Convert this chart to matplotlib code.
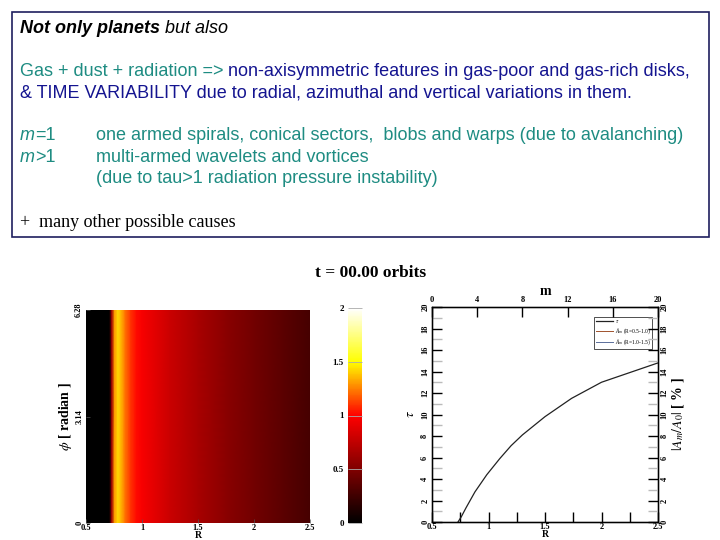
import numpy as np
import matplotlib
matplotlib.use('Agg')
import matplotlib.pyplot as plt
from matplotlib.colors import LinearSegmentedColormap
from matplotlib.patches import Rectangle
from matplotlib.ticker import MultipleLocator

# --- data ---
# surface density along R at t = 0 (axisymmetric, same for every phi)
r_profile = [0.5, 0.71, 0.73, 0.755, 0.785, 0.81, 0.85, 0.90, 0.95, 1.0,
             1.25, 1.5, 1.75, 2.0, 2.25, 2.5]
sigma_profile = [0.0, 0.0, 0.6, 1.3, 1.42, 1.36, 1.22, 1.1, 1.02, 0.97,
                 0.79, 0.66, 0.54, 0.45, 0.36, 0.28]
phi_edges = [0.0, 6.28]

# optical depth tau(R)
r_tau = [0.73, 0.76, 0.80, 0.88, 0.985, 1.1, 1.2, 1.3, 1.5, 1.735, 2.0, 2.25, 2.5]
tau = [0.0, 0.5, 1.3, 2.8, 4.4, 5.9, 7.1, 8.1, 9.8, 11.5, 13.0, 13.9, 14.8]

legend_labels = [r'$\tau$', r'$A_m$ (R=0.5-1.0)', r'$A_m$ (R=1.0-1.5)']
legend_colors = ['#222222', '#a0522d', '#5a6e9a']

cbar_ticks = [0, 0.5, 1, 1.5, 2]
phi_ticks = [0, 3.14, 6.28]
r_ticks = [0.5, 1, 1.5, 2, 2.5]
m_ticks = [0, 4, 8, 12, 16, 20]

TEAL = '#1e8c82'
NAVY = '#141490'

W, H = 720, 540
plt.rcParams['font.family'] = ['Liberation Serif', 'DejaVu Serif']
plt.rcParams['mathtext.fontset'] = 'stix'

fig = plt.figure(figsize=(7.2, 5.4), dpi=100)
renderer = fig.canvas.get_renderer()


def write_runs(x_px, base_px, runs):
    """Writes pieces of text one after another on the same baseline."""
    x = x_px
    for s, props in runs:
        t = fig.text(x / W, 1 - base_px / H, s, va='baseline', ha='left', **props)
        x += t.get_window_extent(renderer).width


# --- text box on top ---
fig.patches.append(Rectangle((12 / W, 1 - 237 / H), 697 / W, 225 / H,
                             transform=fig.transFigure, fill=False,
                             ec='#1f1f5f', lw=1.2))
sans = dict(family=['Liberation Sans', 'DejaVu Sans'], fontsize=13)
write_runs(20, 33, [("Not only planets", dict(sans, weight='bold', style='italic', color='black')),
                    (" but also", dict(sans, style='italic', color='black'))])
write_runs(20, 76, [("Gas + dust + radiation => ", dict(sans, color=TEAL)),
                    ("non-axisymmetric features in gas-poor and gas-rich disks,", dict(sans, color=NAVY))])
write_runs(20, 97.5, [("& TIME VARIABILITY due to radial, azimuthal and vertical variations in them.",
                       dict(sans, color=NAVY))])
write_runs(20, 140.5, [("m", dict(sans, style='italic', color=TEAL)), ("=1", dict(sans, color=TEAL))])
write_runs(96, 140.5, [("one armed spirals, conical sectors,  blobs and warps (due to avalanching)",
                        dict(sans, color=TEAL))])
write_runs(20, 162.5, [("m", dict(sans, style='italic', color=TEAL)), (">1", dict(sans, color=TEAL))])
write_runs(96, 162.5, [("multi-armed wavelets and vortices", dict(sans, color=TEAL))])
write_runs(96, 183, [("(due to tau>1 radiation pressure instability)", dict(sans, color=TEAL))])
write_runs(20, 227, [("+  many other possible causes",
                      dict(family=['Liberation Serif'], fontsize=13, color='black'))])

fig.text(371 / W, 1 - 273 / H, 't = 00.00 orbits', ha='center', va='center',
         fontsize=12.5, weight='bold')

# --- left panel: density map ---
cmap = LinearSegmentedColormap.from_list(
    'bhot', [(0, 'black'), (0.5, '#ff0000'), (0.75, '#ffff00'), (1, 'white')])

ax1 = fig.add_axes([86 / W, 1 - 523 / H, 224 / W, 213 / H])
R2, P2 = np.meshgrid(r_profile, phi_edges)
Z = np.vstack([sigma_profile, sigma_profile])
mesh = ax1.pcolormesh(R2, P2, Z, cmap=cmap, vmin=0, vmax=2, shading='gouraud')
ax1.set_xlim(0.5, 2.5)
ax1.set_ylim(0, 6.28)
ax1.set_xticks(r_ticks)
ax1.set_xticklabels(['0.5', '1', '1.5', '2', '2.5'])
ax1.set_yticks(phi_ticks)
ax1.set_yticklabels(['0', '3.14', '6.28'], rotation=90, va='center')
ax1.tick_params(direction='in', length=3, width=0.5, color='#555555',
                labelsize=6, pad=2)
ax1.tick_params(axis='x', pad=1)
for lab in ax1.get_xticklabels() + ax1.get_yticklabels():
    lab.set_fontweight('bold')
for sp in ax1.spines.values():
    sp.set_visible(False)
ax1.set_ylabel(r'$\phi$ [ radian ]', fontsize=10, weight='bold', labelpad=1)
ax1.set_xlabel('R', fontsize=7, weight='bold', labelpad=-1)

cax = fig.add_axes([348 / W, 1 - 523 / H, 14 / W, 215 / H])
cb = fig.colorbar(mesh, cax=cax, ticks=cbar_ticks)
cb.outline.set_visible(False)
cax.yaxis.set_ticks_position('left')
cax.set_yticklabels(['0', '0.5', '1', '1.5', '2'])
cax.tick_params(direction='in', length=10, width=0.6, color='#aaaaaa',
                labelsize=6.5, pad=3)
for lab in cax.get_yticklabels():
    lab.set_fontweight('bold')

# --- right panel: tau and mode amplitudes ---
ax2 = fig.add_axes([432 / W, 1 - 522 / H, 226 / W, 215 / H])
ax2.plot(r_tau, tau, color=legend_colors[0], lw=0.9, label=legend_labels[0])
ax2.plot([], [], color=legend_colors[1], lw=0.7, label=legend_labels[1])
ax2.plot([], [], color=legend_colors[2], lw=0.7, label=legend_labels[2])
ax2.set_xlim(0.5, 2.5)
ax2.set_ylim(0, 20)
ax2.set_xticks(r_ticks)
ax2.set_xticklabels(['0.5', '1', '1.5', '2', '2.5'])
ax2.xaxis.set_minor_locator(MultipleLocator(0.25))
ax2.yaxis.set_major_locator(MultipleLocator(2))
ax2.yaxis.set_minor_locator(MultipleLocator(1))
ax2.tick_params(which='major', direction='in', length=7, width=1.0,
                labelsize=6, pad=2, right=False, top=False)
ax2.tick_params(which='minor', direction='in', length=7, width=1.0,
                color='#bbbbbb', right=False, top=False)
ax2.tick_params(axis='x', which='minor', color='black')
ax2.tick_params(axis='x', which='major', pad=1)
for lab in ax2.get_yticklabels():
    lab.set_rotation(90)
    lab.set_va('center')
for lab in ax2.get_xticklabels() + ax2.get_yticklabels():
    lab.set_fontweight('bold')
ax2.set_xlabel('R', fontsize=7, weight='bold', labelpad=-1)
ax2.set_ylabel(r'$\tau$', fontsize=10, weight='bold', labelpad=3)
for sp in ax2.spines.values():
    sp.set_linewidth(1.0)

leg = ax2.legend(loc='upper right', bbox_to_anchor=(0.975, 0.955), fontsize=4,
                 frameon=True, fancybox=False, borderpad=0.3, handlelength=3,
                 labelspacing=0.2, borderaxespad=0, handletextpad=0.4)
leg.get_frame().set_edgecolor('black')
leg.get_frame().set_linewidth(0.6)

ax_top = ax2.twiny()
ax_top.set_xlim(0, 20)
ax_top.set_xticks(m_ticks)
ax_top.tick_params(direction='in', length=7, width=1.0, labelsize=6, pad=2)
for lab in ax_top.get_xticklabels():
    lab.set_fontweight('bold')
ax_top.set_xlabel('m', fontsize=10, weight='bold', labelpad=1)

ax_right = ax2.twinx()
ax_right.set_ylim(0, 20)
ax_right.yaxis.set_major_locator(MultipleLocator(2))
ax_right.yaxis.set_minor_locator(MultipleLocator(1))
ax_right.tick_params(which='major', direction='in', length=7, width=1.0,
                     labelsize=6, pad=2)
ax_right.tick_params(which='minor', direction='in', length=7, width=1.0,
                     color='#bbbbbb')
for lab in ax_right.get_yticklabels():
    lab.set_rotation(90)
    lab.set_va('center')
    lab.set_fontweight('bold')
ax_right.set_ylabel(r'$|A_m/A_0|$ [ % ]', fontsize=10, weight='bold', labelpad=1)

fig.savefig('out.png', dpi=100)
